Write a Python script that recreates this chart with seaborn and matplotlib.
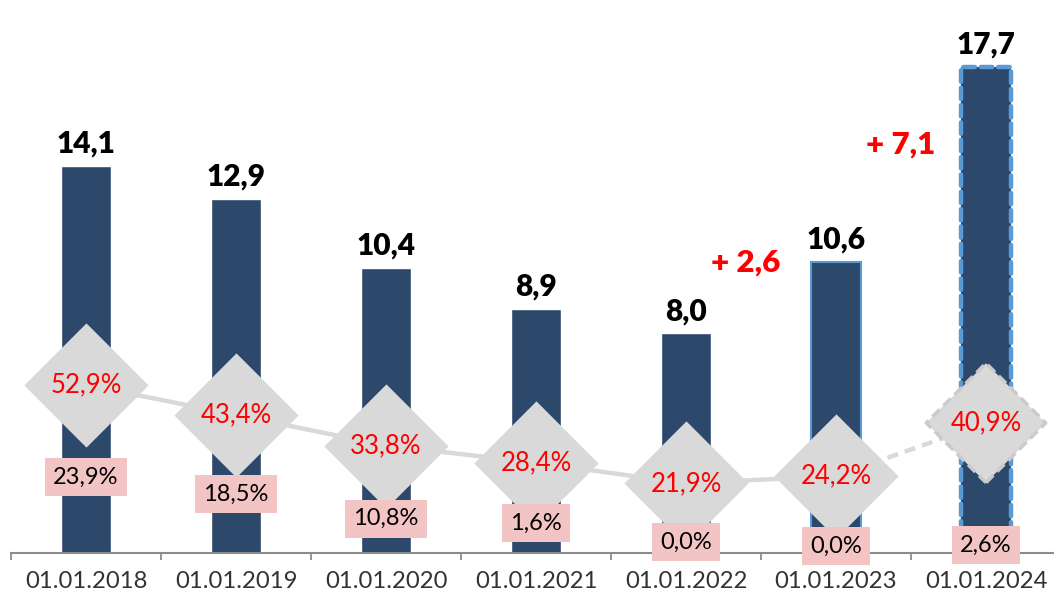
import matplotlib

matplotlib.use("Agg")
import matplotlib.pyplot as plt
import numpy as np
import pandas as pd
import seaborn as sns

# values
dates = ["01.01.2018", "01.01.2019", "01.01.2020", "01.01.2021",
         "01.01.2022", "01.01.2023", "01.01.2024"]
volume = [14.1, 12.9, 10.4, 8.9, 8.0, 10.6, 17.7]
share = [52.9, 43.4, 33.8, 28.4, 21.9, 24.2, 40.9]
overdue = [23.9, 18.5, 10.8, 1.6, 0.0, 0.0, 2.6]
# where the pink labels sit on the percent axis (small values are lifted off the axis)
overdue_label_y = [23.9, 18.5, 10.8, 9.4, 3.5, 2.2, 2.5]

NAVY = "#2C486A"
OUTLINE = "#5B9BD5"
LINE_GRAY = "#D9D9D9"
PINK = "#F2C4C4"
RED = "#FF0000"
AXIS_GRAY = "#8C8C8C"


def fmt(value, suffix=""):
    return f"{value:.1f}".replace(".", ",") + suffix


sns.set_theme(style="white")
plt.rcParams["font.family"] = ["Lato", "DejaVu Sans"]

fig = plt.figure(figsize=(10.54, 5.97), dpi=100)
ax = fig.add_axes([11 / 1054, 44 / 597, 1050 / 1054, 533 / 597])

df = pd.DataFrame({"date": dates, "volume": volume, "share": share})
sns.barplot(data=df, x="date", y="volume", color=NAVY, saturation=1, width=0.33, ax=ax)

# 2023 bar: thin light-blue frame, 2024 bar: dashed frame
bars = ax.patches
bars[5].set_edgecolor(OUTLINE)
bars[5].set_linewidth(1.5)
bars[6].set_edgecolor(OUTLINE)
bars[6].set_linewidth(3.2)
bars[6].set_linestyle((0, (2.6, 1.3)))
bars[6].set_capstyle("round")
bars[6].set_joinstyle("round")

ax.set_xlim(-0.5, 6.5)
ax.set_ylim(0, 19.42)
ax.set_xlabel("")
ax.set_ylabel("")
ax.set_yticks([])
for side in ["left", "right", "top"]:
    ax.spines[side].set_visible(False)
ax.spines["bottom"].set_color(AXIS_GRAY)
ax.spines["bottom"].set_linewidth(1.5)
ax.set_xticks(range(len(dates)))
ax.set_xticklabels(dates, fontsize=17.2, color="#333333")
ax.set_xticks(np.arange(-0.5, len(dates)), minor=True)
ax.tick_params(axis="x", which="major", length=0, pad=13)
ax.tick_params(axis="x", which="minor", bottom=True, length=5, width=1.3, color=AXIS_GRAY)

for i, v in enumerate(volume):
    ax.annotate(fmt(v), xy=(i, v), xytext=(0, 6), textcoords="offset points",
                ha="center", va="bottom", fontsize=21.5, fontweight="heavy", color="black")

# growth notes
ax.text(4.4, 10.6, "+ " + fmt(volume[5] - volume[4]), ha="center", va="center",
        fontsize=22.5, fontweight="heavy", color=RED)
ax.text(5.43, 14.9, "+ " + fmt(volume[6] - volume[5]), ha="center", va="center",
        fontsize=22.5, fontweight="heavy", color=RED)

# percent series on a second axis
ax2 = ax.twinx()
ax2.set_ylim(0, 167.6)
ax2.set_yticks([])
for side in ["left", "right", "top", "bottom"]:
    ax2.spines[side].set_visible(False)

pos = np.arange(len(dates))
sns.lineplot(x=pos[:6], y=share[:6], color=LINE_GRAY, linewidth=3.2, ax=ax2, zorder=2)
sns.lineplot(x=pos[5:], y=share[5:], color=LINE_GRAY, linewidth=3.2,
             linestyle=(0, (2.5, 1.6)), ax=ax2, zorder=2)
sns.scatterplot(x=pos[:6], y=share[:6], marker="D", s=4000, color=LINE_GRAY,
                edgecolor=LINE_GRAY, linewidth=0, ax=ax2, zorder=3)
sns.scatterplot(x=pos[6:], y=share[6:], marker="D", s=3700, color=LINE_GRAY,
                edgecolor="#CBCBCB", linewidth=2.5, linestyle=(0, (3, 1.5)), ax=ax2, zorder=3)
ax2.set_xlim(-0.5, 6.5)

for i, v in enumerate(share):
    ax2.text(i, v, fmt(v, "%"), ha="center", va="center", fontsize=18.5, color=RED, zorder=5)

for i, (v, y) in enumerate(zip(overdue, overdue_label_y)):
    ax2.text(i, y, fmt(v, "%"), ha="center", va="center", fontsize=17, color="black", zorder=6,
             bbox=dict(boxstyle="square,pad=0.36", fc=PINK, ec="none"))

fig.savefig("out.png", dpi=100)
